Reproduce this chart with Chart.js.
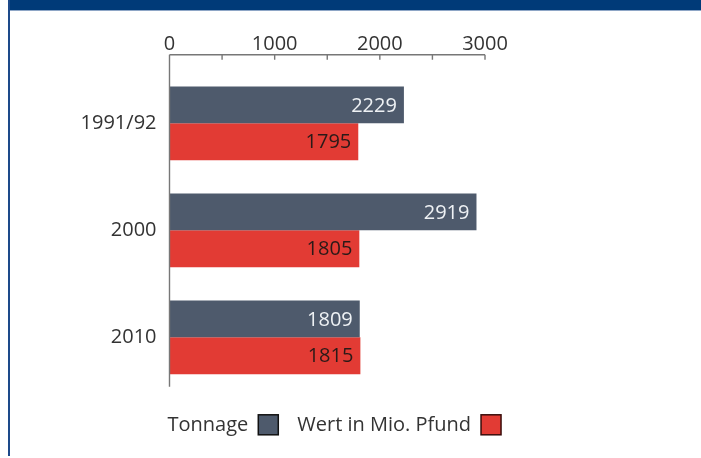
<!DOCTYPE html>
<html>
<head>
<meta charset="utf-8">
<script src="https://cdn.jsdelivr.net/npm/chart.js@4/dist/chart.umd.min.js"></script>
<style>
  html, body { margin: 0; padding: 0; background: #fff; }
  #wrap { position: relative; width: 701px; height: 458px; overflow: hidden; }
  #chart { position: absolute; left: 0; top: 0; }
  #topbar { position: absolute; left: 8px; top: 0; width: 693px; height: 10px; background: #003a78; border-bottom: 1px solid #8ea6c6; }
  #leftline { position: absolute; left: 8px; top: 0; width: 2px; height: 456px; background: #1d4a8a; }
</style>
</head>
<body>
<div id="wrap">
  <canvas id="chart" width="701" height="458"></canvas>
  <div id="topbar"></div>
  <div id="leftline"></div>
</div>
<script>
// data
const categories = ['1991/92', '2000', '2010'];
const tonnage = [2229, 2919, 1809];
const wert = [1795, 1805, 1815];
const seriesNames = ['Tonnage', 'Wert in Mio. Pfund'];
const tickValues = [0, 1000, 2000, 3000];
const minorStep = 500;

const navy = '#4e5a6c';
const red = '#e23b34';
const textColor = '#333333';

Chart.defaults.font.family = "'Open Sans', sans-serif";
Chart.defaults.font.size = 20;
Chart.defaults.color = textColor;

// axis line, minor ticks, value labels and the legend (text before box)
const decor = {
    id: 'decor',
    afterDatasetsDraw(chart) {
        const ctx = chart.ctx;
        const area = chart.chartArea;
        const xs = chart.scales.x;
        const x0 = xs.getPixelForValue(xs.min);
        const x1 = xs.getPixelForValue(xs.max);
        const axisY = area.top - 15;

        ctx.save();
        ctx.strokeStyle = '#777';
        ctx.lineWidth = 1.4;
        ctx.beginPath();
        ctx.moveTo(x0, axisY);
        ctx.lineTo(x1, axisY);
        ctx.moveTo(x0, axisY);
        ctx.lineTo(x0, area.bottom - 4);
        for (let v = xs.min + minorStep; v <= xs.max; v += minorStep) {
            const px = xs.getPixelForValue(v);
            ctx.moveTo(px, axisY);
            ctx.lineTo(px, axisY + 5);
        }
        ctx.stroke();

        // values inside the bars
        ctx.font = "20px 'Open Sans', sans-serif";
        ctx.textAlign = 'right';
        ctx.textBaseline = 'middle';
        chart.data.datasets.forEach(function (ds, di) {
            const meta = chart.getDatasetMeta(di);
            ctx.fillStyle = di === 0 ? '#eef1f4' : '#2a1a18';
            meta.data.forEach(function (bar, i) {
                ctx.fillText(String(ds.data[i]), bar.x - 7, bar.y + 1);
            });
        });

        // legend
        let lx = area.left - 2;
        const ly = area.bottom + 34;
        ctx.textAlign = 'left';
        chart.data.datasets.forEach(function (ds, di) {
            ctx.fillStyle = textColor;
            ctx.fillText(ds.label, lx, ly);
            lx += ctx.measureText(ds.label).width + 10;
            ctx.fillStyle = ds.backgroundColor;
            ctx.fillRect(lx, ly - 10, 20, 20);
            ctx.strokeStyle = di === 0 ? '#111' : '#3a0d0b';
            ctx.lineWidth = 1.5;
            ctx.strokeRect(lx, ly - 10, 20, 20);
            lx += 20 + 19;
        });
        ctx.restore();
    }
};

const config = {
    type: 'bar',
    data: {
        labels: categories,
        datasets: [{
            label: seriesNames[0],
            data: tonnage,
            backgroundColor: navy,
            borderWidth: 0,
            barPercentage: 1,
            categoryPercentage: 0.69
        }, {
            label: seriesNames[1],
            data: wert,
            backgroundColor: red,
            borderWidth: 0,
            barPercentage: 1,
            categoryPercentage: 0.69
        }]
    },
    options: {
        indexAxis: 'y',
        responsive: false,
        animation: false,
        devicePixelRatio: 1,
        layout: {
            padding: { left: 9.5, right: 216, top: 29.8, bottom: 67.2 }
        },
        plugins: {
            legend: { display: false },
            tooltip: { enabled: false }
        },
        scales: {
            x: {
                position: 'top',
                min: 0,
                max: 3000,
                grid: { display: false },
                border: { display: false },
                afterBuildTicks: function (scale) {
                    scale.ticks = tickValues.map(function (v) { return { value: v }; });
                },
                afterFit: function (scale) { scale.height = 40; },
                ticks: {
                    padding: 6,
                    maxRotation: 0,
                    color: textColor,
                    callback: function (v) { return String(v); }
                }
            },
            y: {
                grid: { display: false },
                border: { display: false },
                afterFit: function (scale) { scale.width = 160; },
                ticks: { padding: 5, color: textColor }
            }
        }
    },
    plugins: [decor]
};

const myChart = new Chart(document.getElementById('chart'), config);
</script>
</body>
</html>
